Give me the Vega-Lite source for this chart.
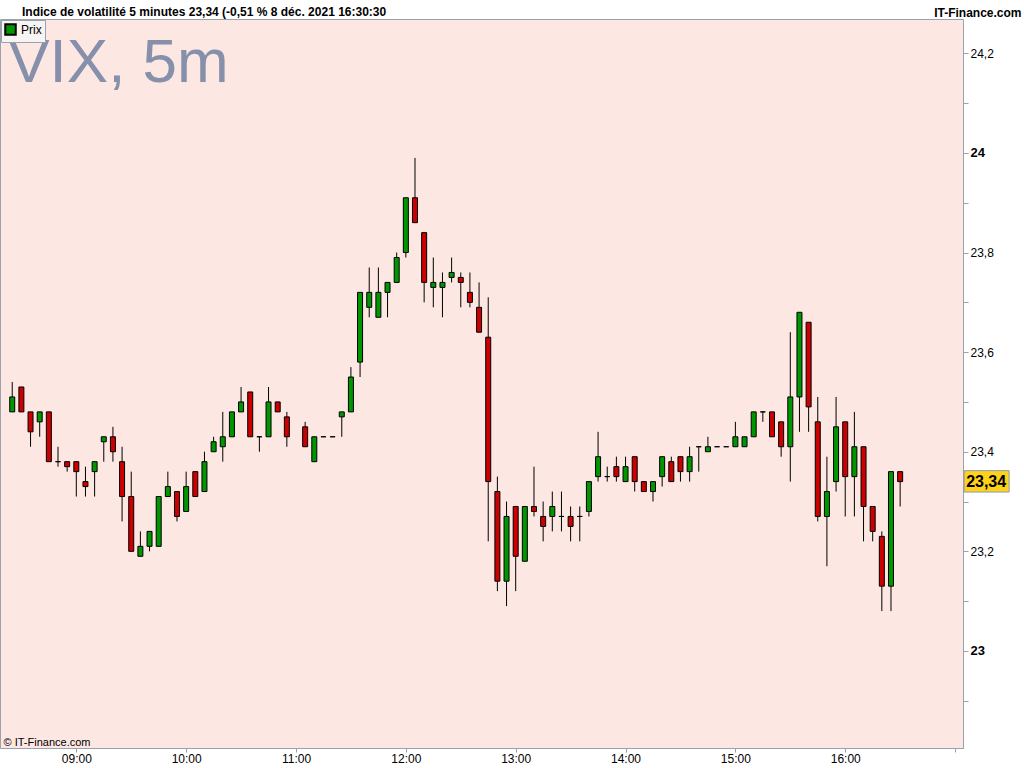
{
  "$schema": "https://vega.github.io/schema/vega-lite/v6.json",
  "width": 963,
  "height": 729,
  "autosize": {"type": "none"},
  "padding": {"left": 0, "top": 19, "right": 61, "bottom": 20},
  "background": "#ffffff",
  "title": {
    "text": "Indice de volatilité 5 minutes 23,34 (-0,51 % 8 déc. 2021 16:30:30",
    "anchor": "start",
    "frame": "group",
    "offset": -13,
    "dx": 22,
    "fontSize": 12,
    "fontWeight": "bold",
    "color": "#000000"
  },
  "config": {
    "font": "Liberation Sans",
    "view": {"fill": "#fde7e3", "stroke": "#9aa3ad"},
    "legend": {
      "orient": "top-left",
      "offset": 1,
      "padding": 3,
      "fillColor": "#f7f4f3",
      "strokeColor": "#9aa3ad",
      "labelFontSize": 12,
      "labelColor": "#000000"
    }
  },
  "data": {
    "values": [
      {"t": "2021-12-08T08:25", "o": 23.48, "h": 23.54, "l": 23.48, "c": 23.51},
      {"t": "2021-12-08T08:30", "o": 23.53, "h": 23.53, "l": 23.48, "c": 23.48},
      {"t": "2021-12-08T08:35", "o": 23.48, "h": 23.48, "l": 23.41, "c": 23.44},
      {"t": "2021-12-08T08:40", "o": 23.46, "h": 23.48, "l": 23.43, "c": 23.48},
      {"t": "2021-12-08T08:45", "o": 23.48, "h": 23.48, "l": 23.38, "c": 23.38},
      {"t": "2021-12-08T08:50", "o": 23.38, "h": 23.41, "l": 23.37, "c": 23.38},
      {"t": "2021-12-08T08:55", "o": 23.38, "h": 23.38, "l": 23.36, "c": 23.37},
      {"t": "2021-12-08T09:00", "o": 23.38, "h": 23.38, "l": 23.31, "c": 23.36},
      {"t": "2021-12-08T09:05", "o": 23.34, "h": 23.37, "l": 23.31, "c": 23.33},
      {"t": "2021-12-08T09:10", "o": 23.36, "h": 23.38, "l": 23.31, "c": 23.38},
      {"t": "2021-12-08T09:15", "o": 23.42, "h": 23.43, "l": 23.38, "c": 23.43},
      {"t": "2021-12-08T09:20", "o": 23.43, "h": 23.45, "l": 23.38, "c": 23.40},
      {"t": "2021-12-08T09:25", "o": 23.38, "h": 23.41, "l": 23.26, "c": 23.31},
      {"t": "2021-12-08T09:30", "o": 23.31, "h": 23.36, "l": 23.20, "c": 23.20},
      {"t": "2021-12-08T09:35", "o": 23.19, "h": 23.24, "l": 23.19, "c": 23.21},
      {"t": "2021-12-08T09:40", "o": 23.21, "h": 23.24, "l": 23.20, "c": 23.24},
      {"t": "2021-12-08T09:45", "o": 23.21, "h": 23.31, "l": 23.21, "c": 23.31},
      {"t": "2021-12-08T09:50", "o": 23.31, "h": 23.36, "l": 23.31, "c": 23.33},
      {"t": "2021-12-08T09:55", "o": 23.32, "h": 23.32, "l": 23.26, "c": 23.27},
      {"t": "2021-12-08T10:00", "o": 23.28, "h": 23.36, "l": 23.28, "c": 23.33},
      {"t": "2021-12-08T10:05", "o": 23.36, "h": 23.36, "l": 23.31, "c": 23.31},
      {"t": "2021-12-08T10:10", "o": 23.32, "h": 23.40, "l": 23.32, "c": 23.38},
      {"t": "2021-12-08T10:15", "o": 23.40, "h": 23.43, "l": 23.40, "c": 23.42},
      {"t": "2021-12-08T10:20", "o": 23.41, "h": 23.48, "l": 23.38, "c": 23.43},
      {"t": "2021-12-08T10:25", "o": 23.43, "h": 23.48, "l": 23.43, "c": 23.48},
      {"t": "2021-12-08T10:30", "o": 23.48, "h": 23.53, "l": 23.48, "c": 23.50},
      {"t": "2021-12-08T10:35", "o": 23.52, "h": 23.52, "l": 23.43, "c": 23.43},
      {"t": "2021-12-08T10:40", "o": 23.43, "h": 23.43, "l": 23.40, "c": 23.43},
      {"t": "2021-12-08T10:45", "o": 23.43, "h": 23.53, "l": 23.43, "c": 23.50},
      {"t": "2021-12-08T10:50", "o": 23.50, "h": 23.50, "l": 23.48, "c": 23.48},
      {"t": "2021-12-08T10:55", "o": 23.47, "h": 23.48, "l": 23.41, "c": 23.43},
      {"t": "2021-12-08T11:05", "o": 23.45, "h": 23.46, "l": 23.41, "c": 23.41},
      {"t": "2021-12-08T11:10", "o": 23.38, "h": 23.43, "l": 23.38, "c": 23.43},
      {"t": "2021-12-08T11:15", "o": 23.43, "h": 23.43, "l": 23.43, "c": 23.43},
      {"t": "2021-12-08T11:20", "o": 23.43, "h": 23.43, "l": 23.43, "c": 23.43},
      {"t": "2021-12-08T11:25", "o": 23.47, "h": 23.48, "l": 23.43, "c": 23.48},
      {"t": "2021-12-08T11:30", "o": 23.48, "h": 23.57, "l": 23.48, "c": 23.55},
      {"t": "2021-12-08T11:35", "o": 23.58, "h": 23.72, "l": 23.55, "c": 23.72},
      {"t": "2021-12-08T11:40", "o": 23.69, "h": 23.77, "l": 23.67, "c": 23.72},
      {"t": "2021-12-08T11:45", "o": 23.67, "h": 23.77, "l": 23.67, "c": 23.72},
      {"t": "2021-12-08T11:50", "o": 23.72, "h": 23.74, "l": 23.67, "c": 23.74},
      {"t": "2021-12-08T11:55", "o": 23.74, "h": 23.80, "l": 23.74, "c": 23.79},
      {"t": "2021-12-08T12:00", "o": 23.80, "h": 23.91, "l": 23.79, "c": 23.91},
      {"t": "2021-12-08T12:05", "o": 23.91, "h": 23.99, "l": 23.86, "c": 23.86},
      {"t": "2021-12-08T12:10", "o": 23.84, "h": 23.84, "l": 23.70, "c": 23.74},
      {"t": "2021-12-08T12:15", "o": 23.73, "h": 23.79, "l": 23.69, "c": 23.74},
      {"t": "2021-12-08T12:20", "o": 23.73, "h": 23.76, "l": 23.67, "c": 23.74},
      {"t": "2021-12-08T12:25", "o": 23.75, "h": 23.79, "l": 23.74, "c": 23.76},
      {"t": "2021-12-08T12:30", "o": 23.75, "h": 23.76, "l": 23.69, "c": 23.74},
      {"t": "2021-12-08T12:35", "o": 23.72, "h": 23.76, "l": 23.69, "c": 23.70},
      {"t": "2021-12-08T12:40", "o": 23.69, "h": 23.74, "l": 23.64, "c": 23.64},
      {"t": "2021-12-08T12:45", "o": 23.63, "h": 23.71, "l": 23.22, "c": 23.34},
      {"t": "2021-12-08T12:50", "o": 23.32, "h": 23.35, "l": 23.12, "c": 23.14},
      {"t": "2021-12-08T12:55", "o": 23.14, "h": 23.30, "l": 23.09, "c": 23.27},
      {"t": "2021-12-08T13:00", "o": 23.29, "h": 23.29, "l": 23.12, "c": 23.19},
      {"t": "2021-12-08T13:05", "o": 23.18, "h": 23.29, "l": 23.18, "c": 23.29},
      {"t": "2021-12-08T13:10", "o": 23.29, "h": 23.37, "l": 23.27, "c": 23.28},
      {"t": "2021-12-08T13:15", "o": 23.27, "h": 23.30, "l": 23.22, "c": 23.25},
      {"t": "2021-12-08T13:20", "o": 23.27, "h": 23.32, "l": 23.24, "c": 23.29},
      {"t": "2021-12-08T13:25", "o": 23.27, "h": 23.32, "l": 23.24, "c": 23.27},
      {"t": "2021-12-08T13:30", "o": 23.27, "h": 23.29, "l": 23.22, "c": 23.25},
      {"t": "2021-12-08T13:35", "o": 23.27, "h": 23.29, "l": 23.22, "c": 23.27},
      {"t": "2021-12-08T13:40", "o": 23.28, "h": 23.34, "l": 23.27, "c": 23.34},
      {"t": "2021-12-08T13:45", "o": 23.35, "h": 23.44, "l": 23.34, "c": 23.39},
      {"t": "2021-12-08T13:50", "o": 23.35, "h": 23.37, "l": 23.34, "c": 23.35},
      {"t": "2021-12-08T13:55", "o": 23.37, "h": 23.39, "l": 23.34, "c": 23.35},
      {"t": "2021-12-08T14:00", "o": 23.34, "h": 23.39, "l": 23.34, "c": 23.37},
      {"t": "2021-12-08T14:05", "o": 23.39, "h": 23.39, "l": 23.32, "c": 23.34},
      {"t": "2021-12-08T14:10", "o": 23.34, "h": 23.34, "l": 23.32, "c": 23.32},
      {"t": "2021-12-08T14:15", "o": 23.32, "h": 23.34, "l": 23.30, "c": 23.34},
      {"t": "2021-12-08T14:20", "o": 23.35, "h": 23.39, "l": 23.33, "c": 23.39},
      {"t": "2021-12-08T14:25", "o": 23.38, "h": 23.39, "l": 23.34, "c": 23.34},
      {"t": "2021-12-08T14:30", "o": 23.39, "h": 23.39, "l": 23.34, "c": 23.36},
      {"t": "2021-12-08T14:35", "o": 23.36, "h": 23.41, "l": 23.34, "c": 23.39},
      {"t": "2021-12-08T14:40", "o": 23.41, "h": 23.41, "l": 23.36, "c": 23.41},
      {"t": "2021-12-08T14:45", "o": 23.40, "h": 23.43, "l": 23.40, "c": 23.41},
      {"t": "2021-12-08T14:50", "o": 23.41, "h": 23.41, "l": 23.41, "c": 23.41},
      {"t": "2021-12-08T14:55", "o": 23.41, "h": 23.41, "l": 23.41, "c": 23.41},
      {"t": "2021-12-08T15:00", "o": 23.41, "h": 23.46, "l": 23.41, "c": 23.43},
      {"t": "2021-12-08T15:05", "o": 23.41, "h": 23.43, "l": 23.41, "c": 23.43},
      {"t": "2021-12-08T15:10", "o": 23.43, "h": 23.48, "l": 23.43, "c": 23.48},
      {"t": "2021-12-08T15:15", "o": 23.48, "h": 23.48, "l": 23.46, "c": 23.48},
      {"t": "2021-12-08T15:20", "o": 23.48, "h": 23.48, "l": 23.43, "c": 23.43},
      {"t": "2021-12-08T15:25", "o": 23.46, "h": 23.46, "l": 23.39, "c": 23.41},
      {"t": "2021-12-08T15:30", "o": 23.41, "h": 23.64, "l": 23.34, "c": 23.51},
      {"t": "2021-12-08T15:35", "o": 23.51, "h": 23.68, "l": 23.44, "c": 23.68},
      {"t": "2021-12-08T15:40", "o": 23.66, "h": 23.66, "l": 23.44, "c": 23.49},
      {"t": "2021-12-08T15:45", "o": 23.46, "h": 23.51, "l": 23.26, "c": 23.27},
      {"t": "2021-12-08T15:50", "o": 23.27, "h": 23.39, "l": 23.17, "c": 23.32},
      {"t": "2021-12-08T15:55", "o": 23.34, "h": 23.51, "l": 23.32, "c": 23.45},
      {"t": "2021-12-08T16:00", "o": 23.46, "h": 23.46, "l": 23.27, "c": 23.35},
      {"t": "2021-12-08T16:05", "o": 23.35, "h": 23.48, "l": 23.27, "c": 23.41},
      {"t": "2021-12-08T16:10", "o": 23.41, "h": 23.41, "l": 23.22, "c": 23.29},
      {"t": "2021-12-08T16:15", "o": 23.29, "h": 23.29, "l": 23.22, "c": 23.24},
      {"t": "2021-12-08T16:20", "o": 23.23, "h": 23.24, "l": 23.08, "c": 23.13},
      {"t": "2021-12-08T16:25", "o": 23.13, "h": 23.36, "l": 23.08, "c": 23.36},
      {"t": "2021-12-08T16:30", "o": 23.36, "h": 23.36, "l": 23.29, "c": 23.34}
    ]
  },
  "layer": [
    {
      "mark": {"type": "rule", "strokeWidth": 1},
      "encoding": {
        "x": {
          "field": "t",
          "type": "temporal",
          "scale": {
            "domain": ["2021-12-08T08:21:03", "2021-12-08T17:01:36"],
            "nice": false
          },
          "axis": {
            "orient": "bottom",
            "values": ["2021-12-08T09:00", "2021-12-08T10:00", "2021-12-08T11:00", "2021-12-08T12:00", "2021-12-08T13:00", "2021-12-08T14:00", "2021-12-08T15:00", "2021-12-08T16:00", "2021-12-08T17:00"],
            "format": "%H:%M",
            "labelExpr": "hours(datum.value) >= 17 ? '' : datum.label",
            "labelFontSize": 12,
            "labelColor": "#000000",
            "labelPadding": 1,
            "labelFlush": false,
            "labelOverlap": false,
            "tickSize": 4,
            "tickColor": "#9aa3ad",
            "domainColor": "#9aa3ad",
            "grid": false,
            "title": "© IT-Finance.com",
            "titleX": 3,
            "titleY": -3,
            "titleAlign": "left",
            "titleBaseline": "alphabetic",
            "titleFontSize": 11,
            "titleFontWeight": "normal",
            "titleColor": "#000000"
          }
        },
        "y": {
          "field": "l",
          "type": "quantitative",
          "scale": {"domain": [22.805, 24.269], "zero": false, "nice": false},
          "axis": {
            "orient": "right",
            "values": [22.9, 23, 23.1, 23.2, 23.3, 23.4, 23.5, 23.6, 23.7, 23.8, 23.9, 24, 24.1, 24.2],
            "labelExpr": "round(datum.value * 10) % 2 != 0 ? '' : (round(datum.value * 10) % 10 == 0 ? format(datum.value, 'd') : replace(format(datum.value, '.1f'), '.', ','))",
            "labelFontSize": {"condition": {"test": "round(datum.value * 10) % 10 == 0", "value": 13}, "value": 12},
            "labelFontWeight": {"condition": {"test": "round(datum.value * 10) % 10 == 0", "value": "bold"}, "value": "normal"},
            "labelColor": "#000000",
            "labelPadding": 2,
            "tickSize": 5,
            "tickColor": "#9aa3ad",
            "domainColor": "#9aa3ad",
            "grid": false,
            "title": "IT-Finance.com",
            "titleAngle": 0,
            "titleX": 58,
            "titleY": -3,
            "titleAlign": "right",
            "titleBaseline": "alphabetic",
            "titleFontSize": 12,
            "titleFontWeight": "bold",
            "titleColor": "#000000"
          }
        },
        "y2": {"field": "h"},
        "color": {
          "datum": "Prix",
          "type": "nominal",
          "scale": {"range": ["#000000"]},
          "legend": {
            "title": null,
            "symbolType": "square",
            "symbolSize": 110,
            "symbolFillColor": "#009600",
            "symbolStrokeColor": "#cc0000",
            "symbolStrokeWidth": 2
          }
        }
      }
    },
    {
      "mark": {"type": "bar", "width": 5, "stroke": "#000000", "strokeWidth": 1},
      "encoding": {
        "x": {"field": "t", "type": "temporal"},
        "y": {"field": "o", "type": "quantitative"},
        "y2": {"field": "c"},
        "fill": {
          "condition": {"test": "datum.c >= datum.o", "value": "#009600"},
          "value": "#cc0000"
        }
      }
    },
    {
      "transform": [{"aggregate": [{"op": "min", "field": "t", "as": "t0"}]}],
      "mark": {"type": "text", "align": "left", "baseline": "alphabetic", "dx": -4, "fontSize": 62, "color": "#8690aa"},
      "encoding": {
        "x": {"field": "t0", "type": "temporal"},
        "y": {"datum": 24.1425, "type": "quantitative"},
        "text": {"value": "VIX, 5m"}
      }
    },
    {
      "transform": [{"aggregate": [{"op": "max", "field": "t", "as": "t1"}]}],
      "mark": {"type": "rect", "fill": "#ffd21a", "stroke": "#8a9bb0", "strokeWidth": 1, "xOffset": 64, "x2Offset": 109},
      "encoding": {
        "x": {"field": "t1", "type": "temporal"},
        "x2": {"field": "t1"},
        "y": {"datum": 23.362, "type": "quantitative"},
        "y2": {"datum": 23.319}
      }
    },
    {
      "transform": [{"aggregate": [{"op": "argmax", "field": "t", "as": "last"}, {"op": "max", "field": "t", "as": "t1"}]}],
      "mark": {"type": "text", "align": "center", "baseline": "middle", "dx": 86, "fontSize": 16, "fontWeight": "bold", "color": "#000000"},
      "encoding": {
        "x": {"field": "t1", "type": "temporal"},
        "y": {"field": "last.c", "type": "quantitative"},
        "text": {"value": "23,34"}
      }
    }
  ]
}
